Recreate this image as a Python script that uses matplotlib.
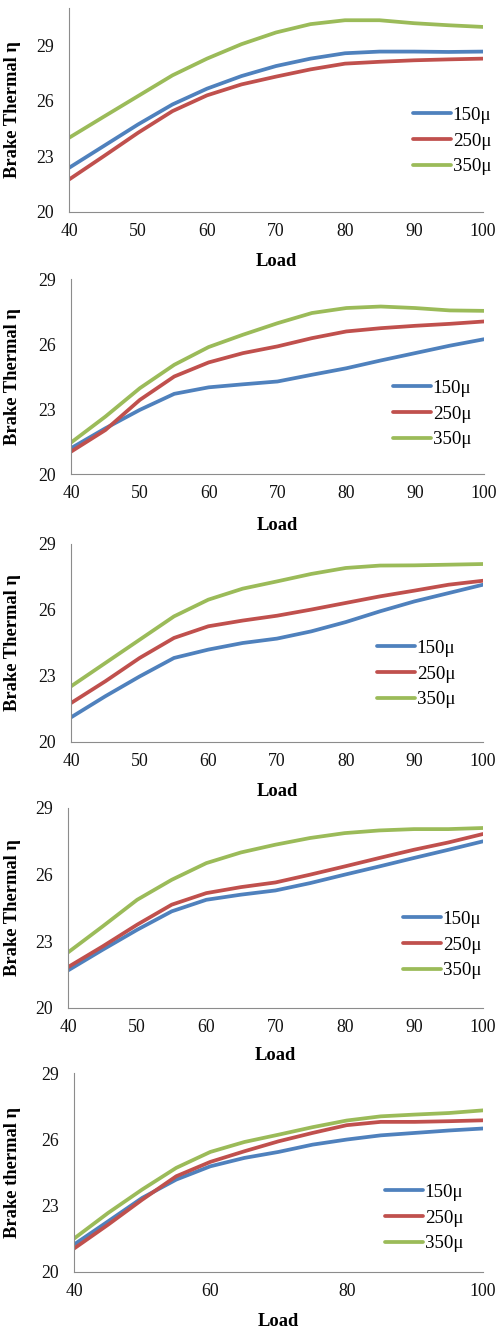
import matplotlib
matplotlib.use("Agg")
import matplotlib.pyplot as plt

plt.rcParams['font.family'] = ['Liberation Serif', 'DejaVu Serif']

load = [40, 45, 50, 55, 60, 65, 70, 75, 80, 85, 90, 95, 100]
series_labels = ["150\u03bc", "250\u03bc", "350\u03bc"]
colors = ["#4F81BD", "#C0504D", "#9BBB59"]

# Panel 1
p1_150 = [22.38, 23.55, 24.72, 25.80, 26.65, 27.33, 27.87, 28.27, 28.56, 28.65, 28.65, 28.63, 28.65]
p1_250 = [21.75, 23.00, 24.27, 25.44, 26.29, 26.88, 27.30, 27.69, 28.00, 28.10, 28.18, 28.23, 28.27]
p1_350 = [24.00, 25.13, 26.25, 27.37, 28.27, 29.05, 29.68, 30.13, 30.34, 30.34, 30.18, 30.07, 29.98]
# Panel 2
p2_150 = [21.19, 22.11, 22.96, 23.70, 24.00, 24.14, 24.27, 24.58, 24.88, 25.24, 25.58, 25.92, 26.22]
p2_250 = [21.03, 22.03, 23.42, 24.50, 25.15, 25.58, 25.89, 26.27, 26.58, 26.73, 26.84, 26.93, 27.04]
p2_350 = [21.45, 22.65, 23.96, 25.04, 25.86, 26.43, 26.96, 27.43, 27.66, 27.73, 27.66, 27.55, 27.53]
# Panel 3
p3_150 = [21.12, 22.08, 22.98, 23.82, 24.20, 24.50, 24.70, 25.03, 25.45, 25.94, 26.39, 26.77, 27.15]
p3_250 = [21.77, 22.76, 23.82, 24.73, 25.26, 25.52, 25.74, 26.02, 26.32, 26.62, 26.88, 27.15, 27.33]
p3_350 = [22.53, 23.59, 24.65, 25.71, 26.47, 26.97, 27.30, 27.64, 27.91, 28.02, 28.03, 28.06, 28.09]
# Panel 4
p4_150 = [21.69, 22.62, 23.52, 24.35, 24.87, 25.10, 25.29, 25.62, 26.00, 26.37, 26.75, 27.12, 27.50]
p4_250 = [21.84, 22.77, 23.75, 24.65, 25.17, 25.44, 25.65, 26.00, 26.37, 26.75, 27.12, 27.45, 27.83]
p4_350 = [22.50, 23.67, 24.87, 25.77, 26.52, 27.00, 27.35, 27.65, 27.87, 27.99, 28.05, 28.05, 28.10]
# Panel 5
p5_150 = [21.24, 22.29, 23.35, 24.18, 24.78, 25.16, 25.43, 25.76, 25.99, 26.18, 26.29, 26.40, 26.49]
p5_250 = [21.06, 22.14, 23.27, 24.33, 24.98, 25.46, 25.91, 26.29, 26.64, 26.79, 26.79, 26.82, 26.86]
p5_350 = [21.51, 22.67, 23.73, 24.71, 25.43, 25.88, 26.21, 26.55, 26.85, 27.04, 27.12, 27.19, 27.31]

yticks = [20, 23, 26, 29]
xticks_a = [40, 50, 60, 70, 80, 90, 100]
xticks_b = [40, 60, 80, 100]
ylabel_a = "Brake Thermal \u03b7"
ylabel_b = "Brake thermal \u03b7"
xlabel = "Load"

W, H = 500, 1330
fig = plt.figure(figsize=(W / 100, H / 100), dpi=100)

# (left, top, right, bottom) in px ; ymax ; xticks ; ylabel ; legend (handle-left x, middle-row y) ; xlabel y
panels = [
    ((69, 8, 483, 212), 31, xticks_a, ylabel_a, (413, 141), 261, [p1_150, p1_250, p1_350]),
    ((71, 279, 484, 474), 29, xticks_a, ylabel_a, (393, 414), 525, [p2_150, p2_250, p2_350]),
    ((71, 544, 483, 742), 29, xticks_a, ylabel_a, (377, 674), 792, [p3_150, p3_250, p3_350]),
    ((68, 808, 483, 1008), 29, xticks_a, ylabel_a, (403, 945), 1056, [p4_150, p4_250, p4_350]),
    ((74, 1073, 483, 1272), 29, xticks_b, ylabel_b, (385, 1218), 1322, [p5_150, p5_250, p5_350]),
]

for (l, t, r, b), ymax, xt, ylab, (lgx, lgy), xly, data in panels:
    ax = fig.add_axes([l / W, 1 - b / H, (r - l) / W, (b - t) / H])
    for vals, c, lab in zip(data, colors, series_labels):
        ax.plot(load, vals, color=c, lw=2.7, solid_capstyle='round',
                solid_joinstyle='round', label=lab)
    ax.set_xlim(40, 100)
    ax.set_ylim(20, ymax)
    ax.set_xticks(xt)
    ax.set_yticks(yticks)
    for s in ['top', 'right']:
        ax.spines[s].set_visible(False)
    for s in ['left', 'bottom']:
        ax.spines[s].set_color('#8c8c8c')
        ax.spines[s].set_linewidth(0.8)
    ax.tick_params(axis='both', length=0, labelsize=12.8, colors='#111111')
    ax.tick_params(axis='x', pad=8)
    ax.tick_params(axis='y', pad=11)
    ax.set_ylabel(ylab, fontsize=13.3, fontweight='bold')
    ax.yaxis.set_label_coords((21 - l) / (r - l), 0.5)
    ax.set_xlabel(xlabel, fontsize=13.3, fontweight='bold')
    ax.xaxis.set_label_coords(0.5, (b - xly) / (b - t))
    ax.xaxis.label.set_verticalalignment('center')
    ax.patch.set_alpha(0)
    fx = lgx / W
    fy = 1 - lgy / H
    ax.legend(loc='center left', bbox_to_anchor=(fx, fy),
              bbox_transform=fig.transFigure, frameon=False, fontsize=13.6,
              handlelength=2.0, handletextpad=0.1, labelspacing=0.45,
              borderpad=0, borderaxespad=0)

fig.savefig("out.png", dpi=100)
